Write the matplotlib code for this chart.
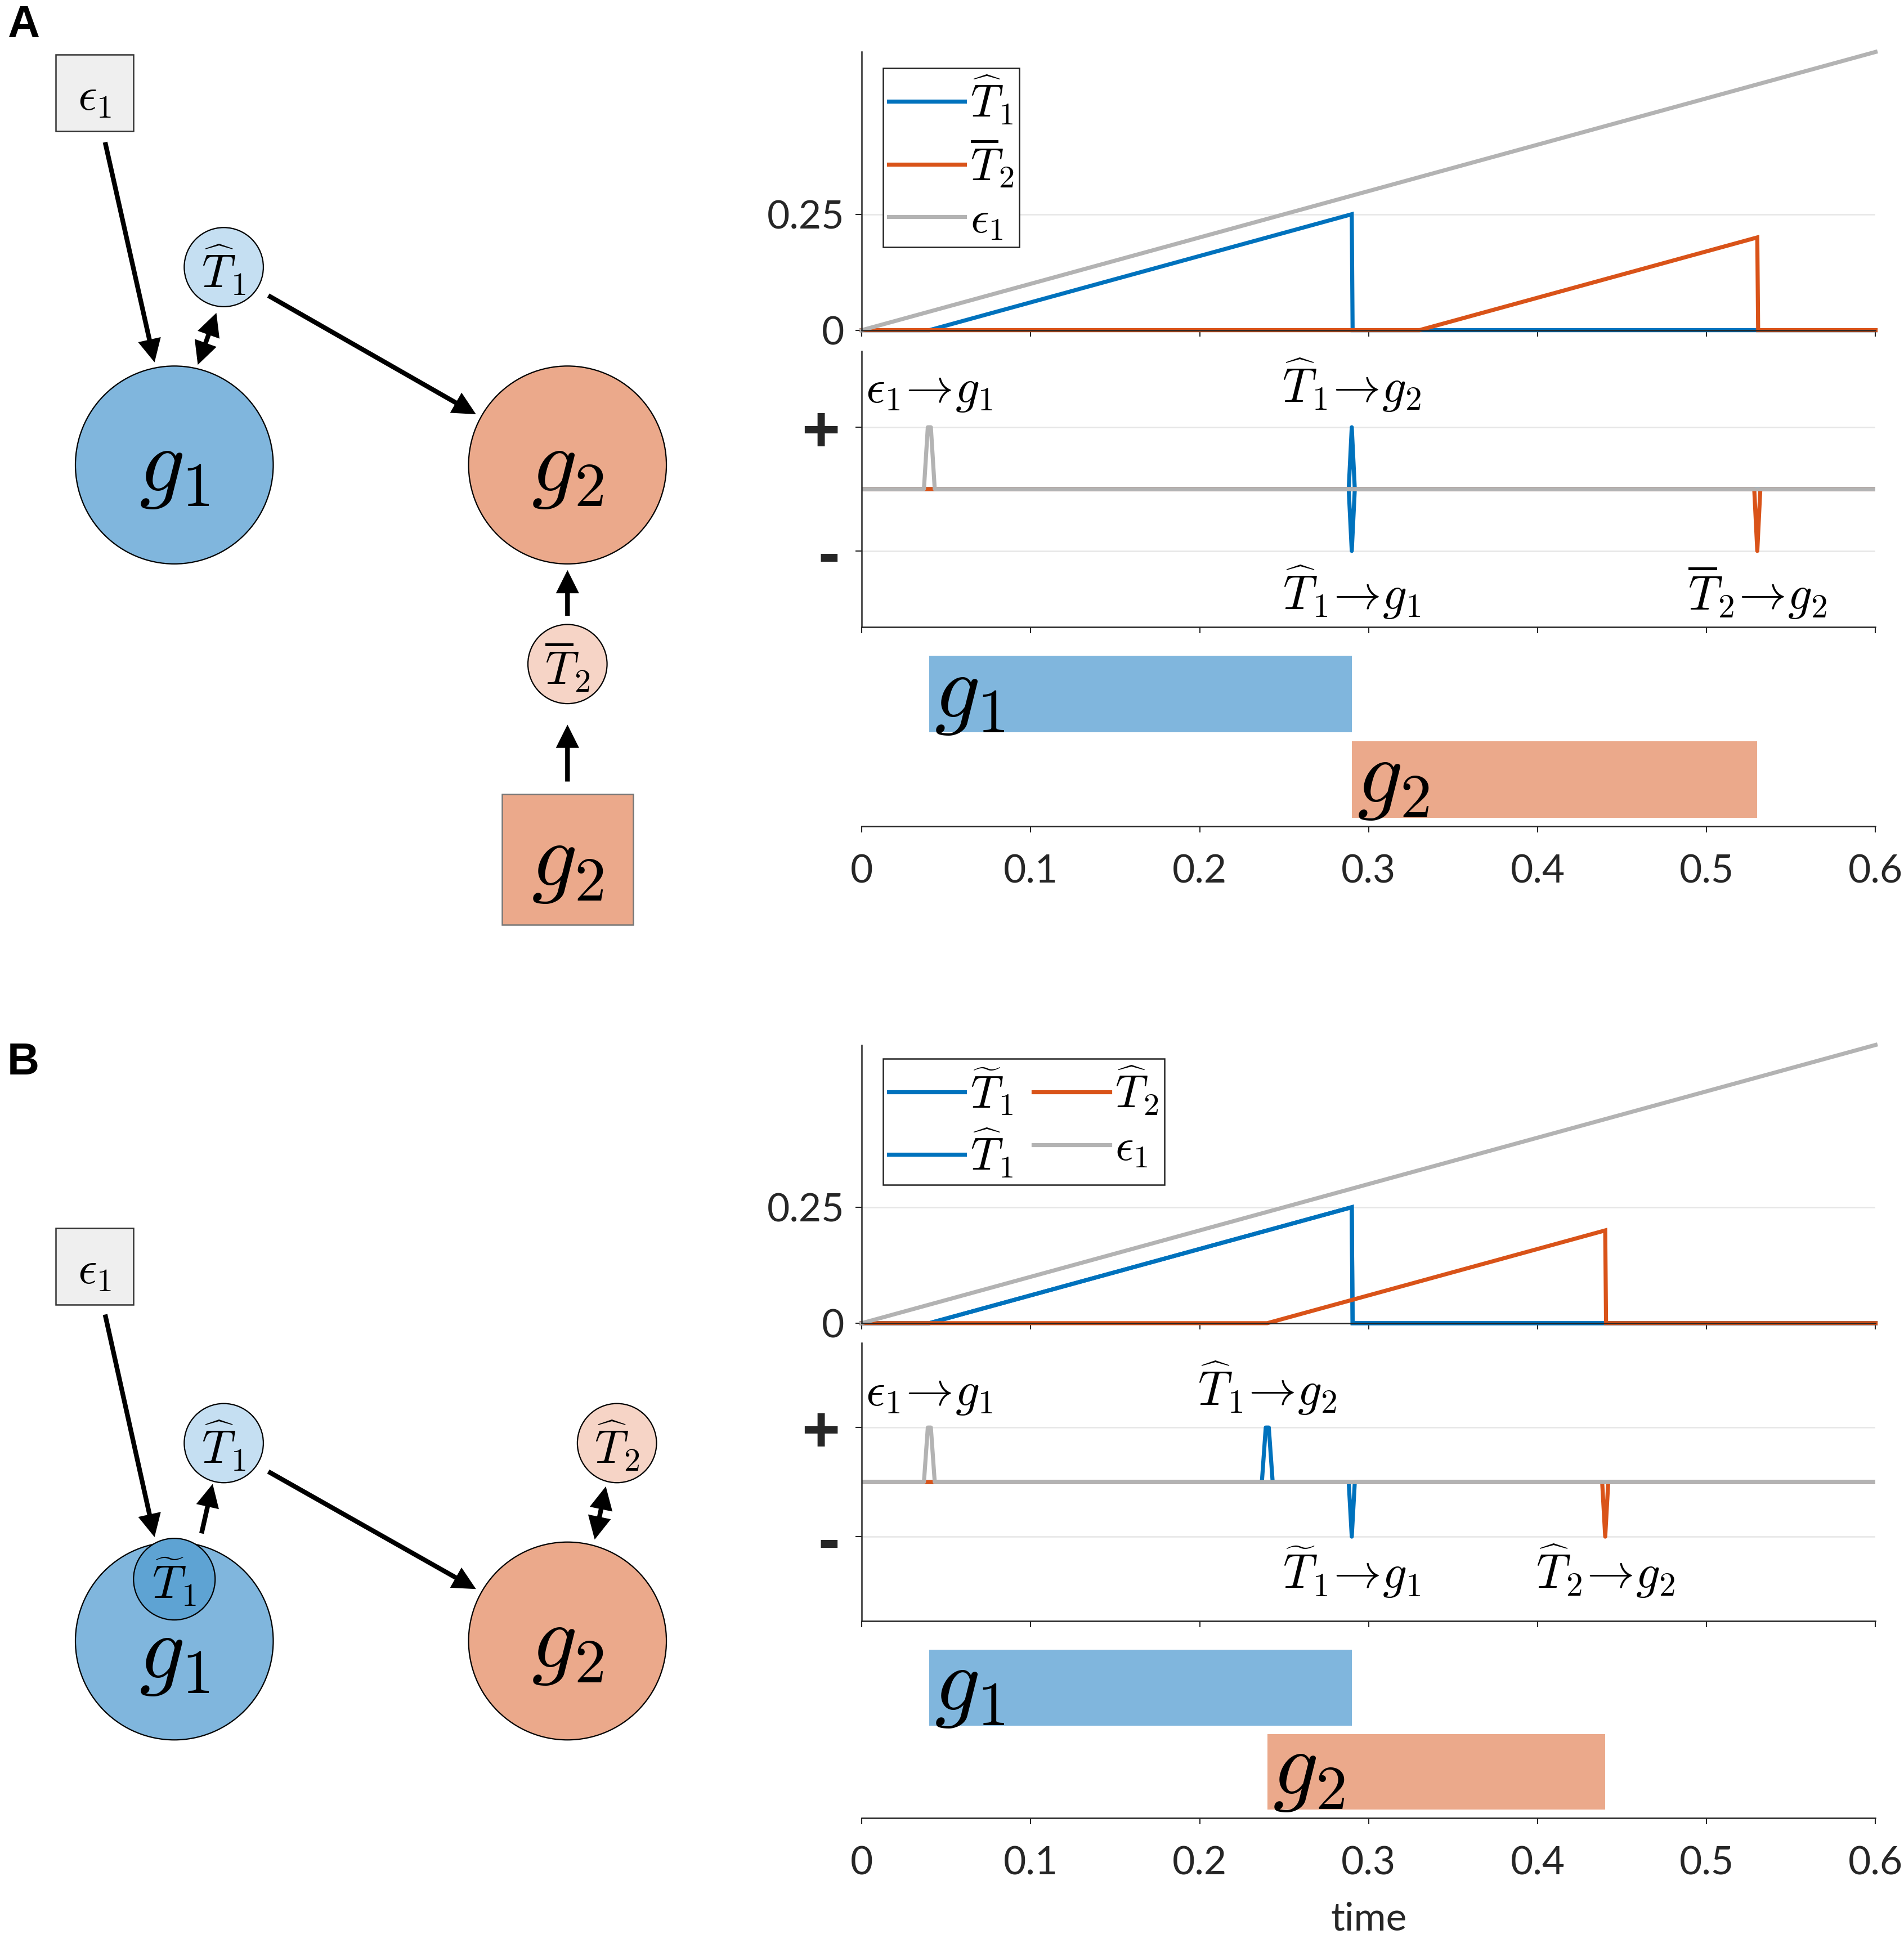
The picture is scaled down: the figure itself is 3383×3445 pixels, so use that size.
import numpy as np
import matplotlib
matplotlib.use("Agg")
import matplotlib.pyplot as plt
from matplotlib.patches import Circle, Rectangle, FancyArrowPatch
from matplotlib.lines import Line2D

plt.rcParams['mathtext.fontset'] = 'cm'
plt.rcParams['font.family'] = ['Lato', 'DejaVu Sans']

# ---------------- data ----------------
time_ticks = [0, 0.1, 0.2, 0.3, 0.4, 0.5, 0.6]
time_labels = ['0', '0.1', '0.2', '0.3', '0.4', '0.5', '0.6']
level_ticks = [0, 0.25]
level_labels = ['0', '0.25']

# Panel A : traces (time, value)
A_eps_t = [0.0, 0.6]
A_eps_v = [0.0, 0.6]
A_T1hat_t = [0.0, 0.04, 0.29, 0.2905, 0.6]
A_T1hat_v = [0.0, 0.0, 0.25, 0.0, 0.0]
A_T2bar_t = [0.0, 0.33, 0.53, 0.5305, 0.6]
A_T2bar_v = [0.0, 0.0, 0.20, 0.0, 0.0]
# Panel A : events
A_evt_time = [0.04, 0.29, 0.29, 0.53]
A_evt_sign = [1, 1, -1, -1]
A_evt_series = ['eps', 'T1', 'T1', 'T2']
A_evt_label = [r'$\epsilon_1\!\rightarrow\! g_1$', r'$\widehat{T}_1\!\rightarrow\! g_2$',
               r'$\widehat{T}_1\!\rightarrow\! g_1$', r'$\overline{T}_2\!\rightarrow\! g_2$']
# Panel A : activity bars
A_bar_name = [r'$g_1$', r'$g_2$']
A_bar_start = [0.04, 0.29]
A_bar_end = [0.29, 0.53]

# Panel B : traces
B_eps_t = [0.0, 0.6]
B_eps_v = [0.0, 0.6]
B_T1til_t = [0.0, 0.04, 0.29, 0.2905, 0.6]
B_T1til_v = [0.0, 0.0, 0.25, 0.0, 0.0]
B_T1hat_t = [0.0, 0.04, 0.29, 0.2905, 0.6]
B_T1hat_v = [0.0, 0.0, 0.25, 0.0, 0.0]
B_T2hat_t = [0.0, 0.24, 0.44, 0.4405, 0.6]
B_T2hat_v = [0.0, 0.0, 0.20, 0.0, 0.0]
# Panel B : events
B_evt_time = [0.04, 0.24, 0.29, 0.44]
B_evt_sign = [1, 1, -1, -1]
B_evt_series = ['eps', 'T1', 'T1', 'T2']
B_evt_label = [r'$\epsilon_1\!\rightarrow\! g_1$', r'$\widehat{T}_1\!\rightarrow\! g_2$',
               r'$\widetilde{T}_1\!\rightarrow\! g_1$', r'$\widehat{T}_2\!\rightarrow\! g_2$']
# Panel B : activity bars
B_bar_name = [r'$g_1$', r'$g_2$']
B_bar_start = [0.04, 0.24]
B_bar_end = [0.29, 0.44]

# ---------------- style ----------------
BLUE = '#0072BD'
ORANGE = '#D95319'
GRAY = '#B3B3B3'
G1C = '#80B6DD'
G2C = '#EBA98B'
T1C = '#C5DFF2'
T2C = '#F6D4C6'
T1TC = '#5EA3D3'
AXC = '#262626'
GRIDC = '#E6E6E6'
LW = 5.2

SW, SH = 1540.0, 1568.0  # layout grid
fig = plt.figure(figsize=(33.83, 34.45), dpi=100)

def rect(l, t, r, b):
    return [l / SW, 1 - b / SH, (r - l) / SW, (b - t) / SH]

# ---------------- diagram ----------------
axd = fig.add_axes([0, 0, 1, 1], zorder=0)
axd.set_xlim(0, SW)
axd.set_ylim(SH, 0)
axd.axis('off')

axd.text(6, 30, 'A', fontsize=57, fontweight='bold', family='Liberation Sans', va='baseline', ha='left')
axd.text(6, 869, 'B', fontsize=57, fontweight='bold', family='Liberation Sans', va='baseline', ha='left')

def circle(cx, cy, r, fc, txt, fs):
    axd.add_patch(Circle((cx, cy), r, fc=fc, ec='black', lw=1.6, zorder=2))
    axd.text(cx, cy + (4 if fs > 80 else 2), txt, fontsize=fs, ha='center', va='center', zorder=3)

def box(x, y, w, h, fc, ec, txt, fs):
    axd.add_patch(Rectangle((x, y), w, h, fc=fc, ec=ec, lw=1.8, zorder=2))
    axd.text(x + w / 2, y + h / 2 + 4, txt, fontsize=fs, ha='center', va='center', zorder=3)

def arrow(p0, p1, style='-|>'):
    axd.add_patch(FancyArrowPatch(p0, p1, arrowstyle=style, mutation_scale=50, lw=6.0,
                                  color='black', shrinkA=0, shrinkB=0, zorder=4,
                                  capstyle='butt', joinstyle='miter'))

# Panel A diagram
box(45, 44, 63, 62, '#EFEFEF', '#333333', r'$\epsilon_1$', 60)
circle(141, 376, 80, G1C, r'$g_1$', 115)
circle(459, 376, 80, G2C, r'$g_2$', 115)
circle(181, 216, 32, T1C, r'$\widehat{T}_1$', 60)
circle(459, 537, 32, T2C, r'$\overline{T}_2$', 60)
box(406, 642, 106, 106, G2C, '#777777', r'$g_2$', 115)
arrow((85, 115), (125, 293))
arrow((175, 253), (160, 295), '<|-|>')
arrow((217, 239), (385, 335))
arrow((459, 498), (459, 461))
arrow((459, 632), (459, 586))

# Panel B diagram
box(45, 993, 63, 62, '#EFEFEF', '#333333', r'$\epsilon_1$', 60)
axd.add_patch(Circle((141, 1327), 80, fc=G1C, ec='black', lw=1.6, zorder=2))
axd.text(141, 1340, r'$g_1$', fontsize=115, ha='center', va='center', zorder=3)
circle(141, 1277, 33, T1TC, r'$\widetilde{T}_1$', 60)
circle(459, 1327, 80, G2C, r'$g_2$', 115)
circle(181, 1167, 32, T1C, r'$\widehat{T}_1$', 60)
circle(499, 1167, 32, T2C, r'$\widehat{T}_2$', 60)
arrow((85, 1063), (125, 1243))
arrow((163, 1240), (172, 1200))
arrow((217, 1190), (385, 1285))
arrow((490, 1202), (481, 1245), '<|-|>')

# ---------------- plots ----------------
def style_axis(ax, show_left=True, xlabels=False):
    for s in ['top', 'right']:
        ax.spines[s].set_visible(False)
    ax.spines['left'].set_visible(show_left)
    for s in ['left', 'bottom']:
        ax.spines[s].set_color(AXC)
        ax.spines[s].set_linewidth(1.8)
    ax.set_xlim(0, 0.6)
    ax.set_xticks(time_ticks)
    if xlabels:
        ax.set_xticklabels(time_labels)
    else:
        ax.set_xticklabels([])
    ax.tick_params(direction='out', length=8, width=1.5, color=AXC, labelsize=50,
                   labelcolor=AXC)
    ax.tick_params(axis='x', pad=28)
    ax.tick_params(axis='y', pad=14)
    ax.patch.set_alpha(0)

def spike_line(series_key, evt_time, evt_sign, evt_series):
    xs, ys = [0.0], [0.0]
    evs = sorted([(t, s) for t, s, k in zip(evt_time, evt_sign, evt_series) if k == series_key])
    times = [t for t, s in evs]
    for t, s in evs:
        paired = times.count(t) > 1
        if s > 0 and not paired:
            xs += [t - 0.0032, t - 0.0009, t + 0.0009, t + 0.0032]
            ys += [0, s, s, 0]
        else:
            xs += [t - 0.0018, t, t + 0.0018]
            ys += [0, s, 0]
    xs.append(0.6)
    ys.append(0.0)
    return xs, ys

def make_panel(tops, traces, legend_items, legend_ncol, legend_anchor,
               evt_time, evt_sign, evt_series, evt_label, mid_ylim,
               bar_name, bar_start, bar_end, xlabel=None):
    t_rect, m_rect, b_rect = tops
    # top: traces
    ax1 = fig.add_axes(rect(*t_rect), zorder=2)
    style_axis(ax1)
    ax1.set_ylim(0, 0.6)
    ax1.set_yticks(level_ticks)
    ax1.set_yticklabels(level_labels)
    ax1.yaxis.grid(True, color=GRIDC, lw=1.8)
    ax1.set_axisbelow(True)
    for (tt, vv, col, lab) in traces:
        ax1.plot(tt, vv, color=col, lw=LW, solid_joinstyle='miter', label=lab, clip_on=False)
    handles = [Line2D([], [], color=col, lw=LW, label=lab) for col, lab in legend_items]
    leg = ax1.legend(handles=handles, loc='upper left', bbox_to_anchor=legend_anchor,
                     borderaxespad=0, ncol=legend_ncol, fontsize=58, frameon=True,
                     fancybox=False, framealpha=1, edgecolor='#222222',
                     handlelength=1.68, handletextpad=0.12, labelspacing=0.22,
                     borderpad=0.12, columnspacing=0.45)
    leg.get_frame().set_linewidth(1.8)

    # middle: events
    ax2 = fig.add_axes(rect(*m_rect), zorder=2)
    style_axis(ax2)
    ax2.set_ylim(-mid_ylim, mid_ylim)
    ax2.set_yticks([-1, 1])
    ax2.set_yticklabels(['-', '+'], fontsize=84, fontweight='bold', family='Liberation Sans')
    ax2.tick_params(axis='y', pad=20)
    ax2.yaxis.grid(True, color=GRIDC, lw=1.8)
    ax2.set_axisbelow(True)
    for key, col in [('T1', BLUE), ('T2', ORANGE), ('eps', GRAY)]:
        xs, ys = spike_line(key, evt_time, evt_sign, evt_series)
        ax2.plot(xs, ys, color=col, lw=LW, solid_joinstyle='round', solid_capstyle='round')
    for t, s, lab in zip(evt_time, evt_sign, evt_label):
        ax2.text(t, 1.4 if s > 0 else -1.95, lab, fontsize=61, ha='center', va='baseline')

    # bottom: bars
    ax3 = fig.add_axes(rect(*b_rect), zorder=2)
    style_axis(ax3, show_left=False, xlabels=True)
    ax3.set_yticks([])
    ax3.set_ylim(-0.55, 1.66)
    ypos = [1, 0]
    cols = [G1C, G2C]
    widths = [e - s for s, e in zip(bar_start, bar_end)]
    ax3.barh(ypos, widths, left=bar_start, height=0.9, color=cols, edgecolor='none')
    for y, s, name in zip(ypos, bar_start, bar_name):
        ax3.text(s + 0.003, y - 0.5, name, fontsize=115, ha='left', va='bottom')
    if xlabel:
        ax3.set_xlabel(xlabel, fontsize=50, labelpad=26, color=AXC)

make_panel(
    [(697, 42, 1517, 267), (697, 284, 1517, 507), (697, 516, 1517, 668)],
    [(A_T1hat_t, A_T1hat_v, BLUE, r'$\widehat{T}_1$'),
     (A_T2bar_t, A_T2bar_v, ORANGE, r'$\overline{T}_2$'),
     (A_eps_t, A_eps_v, GRAY, r'$\epsilon_1$')],
    [(BLUE, r'$\widehat{T}_1$'), (ORANGE, r'$\overline{T}_2$'), (GRAY, r'$\epsilon_1$')],
    1, (0.021, 1 - 0.059),
    A_evt_time, A_evt_sign, A_evt_series, A_evt_label, 2.23,
    A_bar_name, A_bar_start, A_bar_end)

make_panel(
    [(697, 845, 1517, 1070), (697, 1086, 1517, 1311), (697, 1320, 1517, 1470)],
    [(B_T1til_t, B_T1til_v, BLUE, r'$\widetilde{T}_1$'),
     (B_T1hat_t, B_T1hat_v, BLUE, r'$\widehat{T}_1$'),
     (B_T2hat_t, B_T2hat_v, ORANGE, r'$\widehat{T}_2$'),
     (B_eps_t, B_eps_v, GRAY, r'$\epsilon_1$')],
    [(BLUE, r'$\widetilde{T}_1$'), (BLUE, r'$\widehat{T}_1$'),
     (ORANGE, r'$\widehat{T}_2$'), (GRAY, r'$\epsilon_1$')],
    2, (0.021, 1 - 0.05),
    B_evt_time, B_evt_sign, B_evt_series, B_evt_label, 2.55,
    B_bar_name, B_bar_start, B_bar_end, xlabel='time')

fig.savefig('out.png', dpi=100, facecolor='white')
